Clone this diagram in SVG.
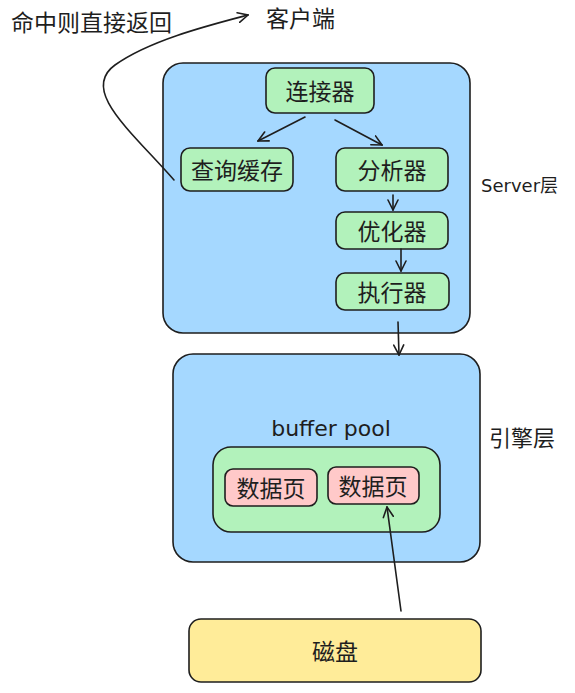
<svg xmlns="http://www.w3.org/2000/svg" width="575" height="693" viewBox="0 0 575 693">
<defs>
<style>
.box{stroke:#1e1e1e;stroke-width:1.6}
.blue{fill:#a5d8ff}
.green{fill:#b2f2bb}
.red{fill:#ffc9c9}
.yellow{fill:#ffec99}
.t{font-family:"Noto Sans CJK SC","Liberation Sans",sans-serif;font-size:23px;fill:#1e1e1e;text-anchor:middle;dominant-baseline:central}
.lbl{font-family:"Noto Sans CJK SC","Liberation Sans",sans-serif;font-size:23px;fill:#1e1e1e}
.hand{font-family:"DejaVu Sans","Noto Sans CJK SC",sans-serif;fill:#1e1e1e}
.c{fill:none;stroke:#1e1e1e;stroke-width:1.6;stroke-linecap:round}
</style>
<marker id="ah" viewBox="0 0 12 12" refX="11" refY="6" markerWidth="12" markerHeight="12" markerUnits="userSpaceOnUse" orient="auto">
<path d="M1,1 L11,6 L1,11" fill="none" stroke="#1e1e1e" stroke-width="1.6" stroke-linecap="round"/>
</marker>
</defs>

<g id="server-layer">
<rect class="box blue" x="163" y="63" width="307" height="270" rx="20"/>
</g>
<g id="engine-layer">
<rect class="box blue" x="173" y="354" width="307" height="208" rx="20"/>
</g>
<g id="connector-node">
<rect class="box green" x="266" y="68" width="108" height="45" rx="9"/>
<text class="t" x="320" y="90">连接器</text>
</g>
<g id="query-cache">
<rect class="box green" x="181" y="148" width="112" height="43" rx="9"/>
<text class="t" x="237" y="169">查询缓存</text>
</g>
<g id="parser">
<rect class="box green" x="336" y="148" width="112" height="43" rx="9"/>
<text class="t" x="392" y="169">分析器</text>
</g>
<g id="optimizer">
<rect class="box green" x="336" y="212" width="112" height="37" rx="9"/>
<text class="t" x="392" y="230">优化器</text>
</g>
<g id="executor">
<rect class="box green" x="336" y="273" width="113" height="37" rx="9"/>
<text class="t" x="392" y="291">执行器</text>
</g>
<g id="buffer-pool">
<text class="hand" x="331" y="436" text-anchor="middle" style="font-size:22px">buffer pool</text>
<rect class="box green" x="213" y="447" width="227" height="85" rx="18"/>
</g>
<g id="page1">
<rect class="box red" x="225" y="469" width="92" height="37" rx="8"/>
<text class="t" x="271" y="487">数据页</text>
</g>
<g id="page2">
<rect class="box red" x="328" y="467" width="91" height="37" rx="8"/>
<text class="t" x="373" y="485">数据页</text>
</g>
<g id="disk">
<rect class="box yellow" x="189" y="619" width="292" height="63" rx="12"/>
<text class="t" x="335" y="650">磁盘</text>
</g>
<g id="labels">
<text class="lbl" x="11" y="31">命中则直接返回</text>
<text class="lbl" x="266" y="27">客户端</text>
<text class="hand" x="481" y="192" style="font-size:18px">Server层</text>
<text class="lbl" x="489" y="446" style="font-size:22px">引擎层</text>
</g>
<g id="connectors">
<path class="c" d="M305,117 L258,141" marker-end="url(#ah)"/>
<path class="c" d="M335,120 L382,145" marker-end="url(#ah)"/>
<path class="c" d="M393,195 L393,210" marker-end="url(#ah)"/>
<path class="c" d="M401,249 L401,271" marker-end="url(#ah)"/>
<path class="c" d="M398,322 L399,355" marker-end="url(#ah)"/>
<path class="c" d="M401,611 L387,507" marker-end="url(#ah)"/>
<path class="c" d="M174,180 C130,130 80,90 115,65 C150,40 210,25 248,15" marker-end="url(#ah)"/>
</g>
</svg>
